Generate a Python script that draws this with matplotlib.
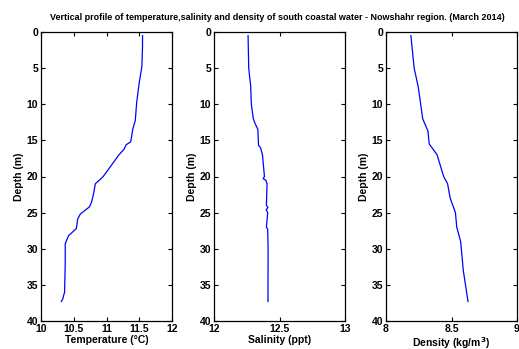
import matplotlib
matplotlib.use("Agg")
import matplotlib.pyplot as plt

plt.rcParams['font.family'] = ['Liberation Sans', 'DejaVu Sans']
plt.rcParams['font.weight'] = 'bold'

temp_depth = [0.5, 2, 4.8, 7, 9.8, 12.2, 13.5, 15.2, 15.6, 16.2, 17, 18, 19, 20, 20.6, 21,
              22.5, 23.6, 24.2, 25.2, 25.9, 27.2, 28.2, 29.3, 32, 36, 37, 37.3]
temp_vals = [11.55, 11.55, 11.54, 11.50, 11.46, 11.44, 11.40, 11.37, 11.30, 11.27, 11.19, 11.11,
             11.03, 10.95, 10.88, 10.83, 10.80, 10.77, 10.74, 10.60, 10.56, 10.54, 10.42, 10.37,
             10.37, 10.36, 10.33, 10.31]

sal_depth = [0.5, 5, 7.5, 10, 12, 12.5, 13.5, 15.7, 16, 17, 19, 20, 20.3, 20.5, 21, 24, 24.3,
             24.6, 25, 27, 27.3, 30, 37.3]
sal_vals = [12.26, 12.265, 12.28, 12.285, 12.30, 12.31, 12.335, 12.34, 12.355, 12.37, 12.38,
            12.385, 12.375, 12.395, 12.405, 12.40, 12.412, 12.398, 12.41, 12.40, 12.41, 12.413, 12.412]

den_depth = [0.5, 5, 7.5, 10, 12, 13.7, 15.5, 16, 17, 18.5, 20, 21, 23, 24, 25, 27, 29, 33, 37.3]
den_vals = [8.19, 8.215, 8.245, 8.265, 8.28, 8.32, 8.33, 8.35, 8.39, 8.415, 8.44, 8.47, 8.49,
            8.51, 8.53, 8.54, 8.57, 8.59, 8.626]

temp_ticks = [10, 10.5, 11, 11.5, 12]
sal_ticks = [12, 12.5, 13]
den_ticks = [8, 8.5, 9]
depth_ticks = [0, 5, 10, 15, 20, 25, 30, 35, 40]

fig = plt.figure(figsize=(5.19, 3.49), dpi=100)
lefts = [41/519, 214/519, 386/519]
w = 131/519
b = 1 - 321/349
h = 289/349

panels = [
    (temp_vals, temp_depth, temp_ticks, ['10', '10.5', '11', '11.5', '12'], 'Temperature (°C)'),
    (sal_vals, sal_depth, sal_ticks, ['12', '12.5', '13'], 'Salinity (ppt)'),
    (den_vals, den_depth, den_ticks, ['8', '8.5', '9'], 'Density (kg/m$^\\mathbf{3}$)'),
]

for left, (xv, yv, xt, xtl, xlabel) in zip(lefts, panels):
    ax = fig.add_axes([left, b, w, h])
    ax.plot(xv, yv, color='#0000ff', lw=0.9)
    ax.set_xlim(xt[0], xt[-1])
    ax.set_ylim(40, 0)
    ax.set_xticks(xt)
    ax.set_xticklabels(xtl)
    ax.set_yticks(depth_ticks)
    ax.tick_params(direction='in', top=True, right=True, length=3, width=0.8,
                   labelsize=7.5, pad=2)
    for lab in ax.get_xticklabels() + ax.get_yticklabels():
        lab.set_fontweight('bold')
    for s in ax.spines.values():
        s.set_linewidth(0.9)
    ax.set_xlabel(xlabel, fontsize=7.5, fontweight='bold', labelpad=1)
    ax.set_ylabel('Depth (m)', fontsize=7.5, fontweight='bold', labelpad=2)

fig.text(277/519, 1 - 17/349,
         'Vertical profile of temperature,salinity and density of south coastal water - Nowshahr region. (March 2014)',
         ha='center', va='center', fontsize=6.5, fontweight='bold')

fig.savefig('out.png', dpi=100)
